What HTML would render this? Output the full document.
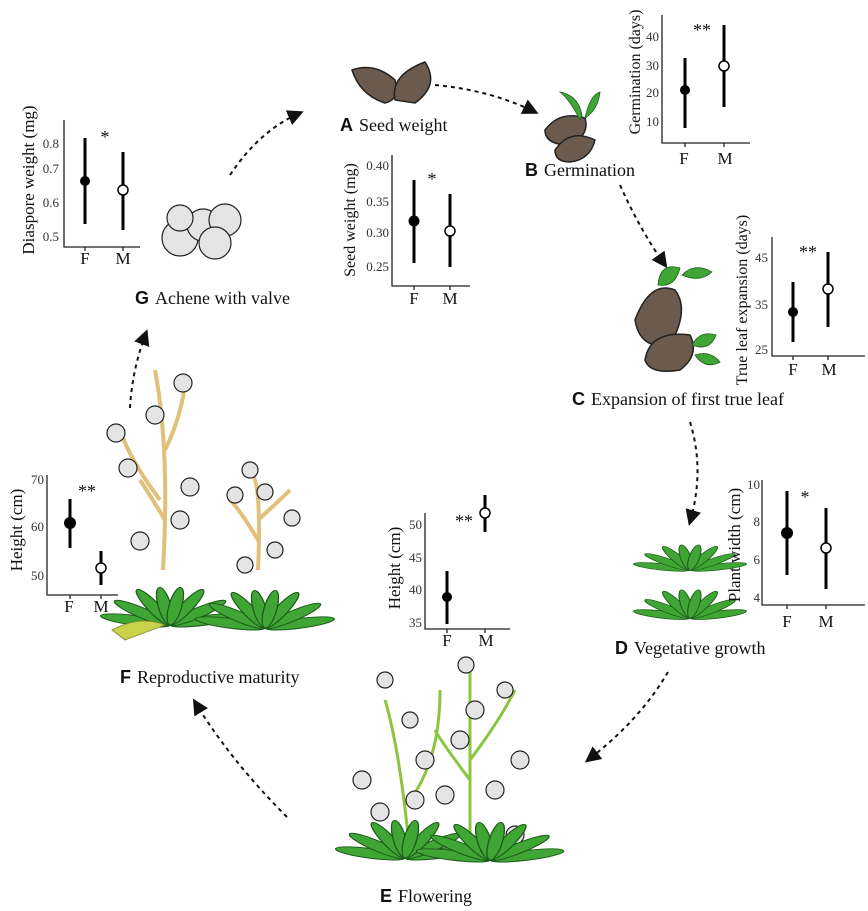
<!DOCTYPE html>
<html><head><meta charset="utf-8"><style>
html,body{margin:0;padding:0;background:#fff;}
svg{display:block;}
.t{font-family:"Liberation Serif",serif;fill:#111;}
.k{font-family:"Liberation Serif",serif;fill:#333;font-size:13px;text-anchor:end;}
.b{font-family:"Liberation Sans",sans-serif;font-weight:bold;fill:#111;}
.ax{stroke:#222;stroke-width:1.3;fill:none;}
.er{stroke:#000;stroke-width:3;}
.ar{stroke:#111;stroke-width:2;fill:none;stroke-dasharray:4 4;}
.lf{fill:#3fa535;stroke:#1d5b1a;stroke-width:0.8;}
.st{stroke:#8bc53f;stroke-width:3;fill:none;}
.sty{stroke:#e0c07a;stroke-width:4;fill:none;}
.fl{fill:#e4e4e4;stroke:#222;stroke-width:1.2;}
</style></head><body>
<svg width="868" height="911" viewBox="0 0 868 911" xmlns="http://www.w3.org/2000/svg">
<defs><marker id="m" markerWidth="10" markerHeight="10" refX="6" refY="5" orient="auto"><path d="M0,1 L8,5 L0,9 Z" fill="#111"/></marker>
<g id="ros">
<ellipse cx="0" cy="-22" rx="4" ry="22" class="lf" transform="rotate(-80)"/>
<ellipse cx="0" cy="-22" rx="4" ry="22" class="lf" transform="rotate(80)"/>
<ellipse cx="0" cy="-20" rx="4" ry="20" class="lf" transform="rotate(-60)"/>
<ellipse cx="0" cy="-20" rx="4" ry="20" class="lf" transform="rotate(60)"/>
<ellipse cx="0" cy="-18" rx="4" ry="18" class="lf" transform="rotate(-35)"/>
<ellipse cx="0" cy="-18" rx="4" ry="18" class="lf" transform="rotate(35)"/>
<ellipse cx="0" cy="-16" rx="4" ry="16" class="lf" transform="rotate(-12)"/>
<ellipse cx="0" cy="-16" rx="4" ry="16" class="lf" transform="rotate(12)"/>
</g></defs>

<!-- arrows -->
<path class="ar" d="M230,175 Q260,130 300,113" marker-end="url(#m)"/>
<path class="ar" d="M435,85 Q490,90 535,112" marker-end="url(#m)"/>
<path class="ar" d="M620,185 Q640,230 665,265" marker-end="url(#m)"/>
<path class="ar" d="M690,422 Q705,470 690,522" marker-end="url(#m)"/>
<path class="ar" d="M668,672 Q640,720 588,760" marker-end="url(#m)"/>
<path class="ar" d="M287,817 Q230,760 195,702" marker-end="url(#m)"/>
<path class="ar" d="M130,408 Q132,370 146,333" marker-end="url(#m)"/>

<!-- seeds A -->
<path d="M352,70 Q375,62 395,80 Q400,100 385,103 Q360,95 352,70Z" fill="#6b5b4f" stroke="#222" stroke-width="1.5"/>
<path d="M395,100 Q390,75 425,62 Q440,85 415,103 Z" fill="#6b5b4f" stroke="#222" stroke-width="1.5"/>
<!-- B -->
<path d="M545,130 Q560,110 585,118 Q590,135 570,145 Q545,145 545,130Z" fill="#6b5b4f" stroke="#222" stroke-width="1.5"/>
<path d="M555,150 Q570,128 595,140 Q590,160 570,162 Q555,162 555,150Z" fill="#6b5b4f" stroke="#222" stroke-width="1.5"/>
<path d="M580,120 Q570,100 560,92 Q578,95 582,115Z" class="lf" fill="#7cc242"/>
<path d="M585,118 Q590,95 600,92 Q598,110 585,118Z" class="lf"/>
<!-- C -->
<path d="M635,320 Q650,280 675,290 Q690,310 670,345 Q640,350 635,320Z" fill="#6b5b4f" stroke="#222" stroke-width="1.5"/>
<path d="M645,360 Q650,330 690,335 Q700,355 680,370 Q650,375 645,360Z" fill="#6b5b4f" stroke="#222" stroke-width="1.5"/>
<path d="M658,285 Q660,262 680,268 Q675,288 658,285Z" class="lf" fill="#7cc242"/>
<path d="M682,275 Q695,262 712,272 Q700,283 682,275Z" class="lf" fill="#7cc242"/>
<path d="M692,345 Q700,330 716,335 Q710,352 692,345Z" class="lf" fill="#7cc242"/>
<path d="M695,355 Q710,350 720,362 Q705,370 695,355Z" class="lf" fill="#7cc242"/>
<!-- G achenes -->
<g class="fl"><circle cx="180" cy="238" r="18"/><circle cx="203" cy="225" r="16"/><circle cx="225" cy="220" r="16"/><circle cx="215" cy="243" r="16"/><circle cx="180" cy="218" r="13"/></g>
<!-- D plants -->
<use href="#ros" transform="translate(690,570) scale(1.3,0.8)"/>
<use href="#ros" transform="translate(690,618) scale(1.3,0.9)"/>
<!-- F plants -->
<path class="sty" d="M163,570 Q170,450 155,370 M160,500 Q130,460 120,430 M165,450 Q180,420 185,385 M165,520 Q150,495 140,480"/>
<path class="sty" d="M258,570 Q262,480 250,470 M258,540 Q240,510 230,500 M258,520 Q280,500 290,490"/>
<g class="fl">
<circle cx="155" cy="415" r="9"/><circle cx="183" cy="383" r="9"/><circle cx="116" cy="433" r="9"/><circle cx="190" cy="487" r="9"/><circle cx="128" cy="468" r="9"/><circle cx="140" cy="541" r="9"/><circle cx="180" cy="520" r="9"/>
<circle cx="250" cy="470" r="8"/><circle cx="235" cy="495" r="8"/><circle cx="292" cy="518" r="8"/><circle cx="275" cy="550" r="8"/><circle cx="245" cy="565" r="8"/><circle cx="265" cy="492" r="8"/>
</g>
<use href="#ros" transform="translate(170,625) scale(1.6,1.2)"/>
<use href="#ros" transform="translate(265,628) scale(1.6,1.2)"/>
<path d="M112,630 Q140,615 165,625 L125,640Z" fill="#c9d24a" stroke="#7a8a20" stroke-width="0.8"/>
<!-- E plants -->
<path class="st" d="M410,855 Q400,750 385,700 M410,800 Q440,760 440,690 M470,855 Q470,750 470,665 M470,760 Q500,720 515,690 M470,780 Q440,740 435,730"/>
<g class="fl">
<circle cx="362" cy="780" r="9"/><circle cx="380" cy="812" r="9"/><circle cx="385" cy="680" r="8"/><circle cx="410" cy="720" r="8"/><circle cx="425" cy="760" r="9"/><circle cx="415" cy="800" r="9"/>
<circle cx="466" cy="665" r="8"/><circle cx="475" cy="710" r="9"/><circle cx="505" cy="690" r="8"/><circle cx="460" cy="740" r="9"/><circle cx="520" cy="760" r="9"/><circle cx="495" cy="790" r="9"/><circle cx="515" cy="835" r="9"/><circle cx="445" cy="795" r="9"/>
</g>
<use href="#ros" transform="translate(405,858) scale(1.6,1.2)"/>
<use href="#ros" transform="translate(490,860) scale(1.7,1.2)"/>

<!-- Plot G -->
<path class="ax" d="M64,120 V247 H140 M85,247 v4 M123,247 v4"/>
<text class="k" x="59" y="148">0.8</text><text class="k" x="59" y="173">0.7</text><text class="k" x="59" y="207">0.6</text><text class="k" x="59" y="241">0.5</text>
<line class="er" x1="85" y1="138" x2="85" y2="224"/><circle cx="85" cy="181" r="5"/>
<line class="er" x1="123" y1="152" x2="123" y2="230"/><circle cx="123" cy="190" r="5" fill="#fff" stroke="#000" stroke-width="1.5"/>
<text class="t" x="105" y="143" font-size="18" text-anchor="middle">*</text>
<text class="t" x="85" y="264" font-size="17" text-anchor="middle">F</text><text class="t" x="123" y="264" font-size="17" text-anchor="middle">M</text>
<text class="t" font-size="17" transform="translate(34,180) rotate(-90)" text-anchor="middle">Diaspore weight (mg)</text>

<!-- Plot A -->
<path class="ax" d="M392,155 V286 H470 M414,286 v4 M450,286 v4"/>
<text class="k" x="389" y="170">0.40</text><text class="k" x="389" y="206">0.35</text><text class="k" x="389" y="237">0.30</text><text class="k" x="389" y="271">0.25</text>
<line class="er" x1="414" y1="180" x2="414" y2="263"/><circle cx="414" cy="221" r="5.5"/>
<line class="er" x1="450" y1="194" x2="450" y2="267"/><circle cx="450" cy="231" r="5" fill="#fff" stroke="#000" stroke-width="1.5"/>
<text class="t" x="432" y="185" font-size="18" text-anchor="middle">*</text>
<text class="t" x="414" y="304" font-size="17" text-anchor="middle">F</text><text class="t" x="450" y="304" font-size="17" text-anchor="middle">M</text>
<text class="t" font-size="16" transform="translate(355,220) rotate(-90)" text-anchor="middle">Seed weight (mg)</text>

<!-- Plot B -->
<path class="ax" d="M662,15 V143 H750 M685,143 v4 M724,143 v4"/>
<text class="k" x="659" y="41">40</text><text class="k" x="659" y="70">30</text><text class="k" x="659" y="97">20</text><text class="k" x="659" y="126">10</text>
<line class="er" x1="685" y1="58" x2="685" y2="128"/><circle cx="685" cy="90" r="5"/>
<line class="er" x1="724" y1="25" x2="724" y2="107"/><circle cx="724" cy="66" r="5" fill="#fff" stroke="#000" stroke-width="1.5"/>
<text class="t" x="702" y="36" font-size="18" text-anchor="middle">**</text>
<text class="t" x="684" y="164" font-size="17" text-anchor="middle">F</text><text class="t" x="725" y="164" font-size="17" text-anchor="middle">M</text>
<text class="t" font-size="16" transform="translate(640,72) rotate(-90)" text-anchor="middle">Germination (days)</text>

<!-- Plot C -->
<path class="ax" d="M772,237 V356 H865 M793,356 v4 M828,356 v4"/>
<text class="k" x="768" y="262">45</text><text class="k" x="768" y="309">35</text><text class="k" x="768" y="354">25</text>
<line class="er" x1="793" y1="282" x2="793" y2="342"/><circle cx="793" cy="312" r="5"/>
<line class="er" x1="828" y1="252" x2="828" y2="327"/><circle cx="828" cy="289" r="5" fill="#fff" stroke="#000" stroke-width="1.5"/>
<text class="t" x="808" y="258" font-size="18" text-anchor="middle">**</text>
<text class="t" x="793" y="375" font-size="17" text-anchor="middle">F</text><text class="t" x="829" y="375" font-size="17" text-anchor="middle">M</text>
<text class="t" font-size="16" transform="translate(747,300) rotate(-90)" text-anchor="middle">True leaf expansion (days)</text>

<!-- Plot D -->
<path class="ax" d="M762,480 V605 H865 M787,605 v4 M826,605 v4"/>
<text class="k" x="760" y="489">10</text><text class="k" x="760" y="526">8</text><text class="k" x="760" y="564">6</text><text class="k" x="760" y="602">4</text>
<line class="er" x1="787" y1="491" x2="787" y2="575"/><circle cx="787" cy="533" r="6"/>
<line class="er" x1="826" y1="508" x2="826" y2="589"/><circle cx="826" cy="548" r="5" fill="#fff" stroke="#000" stroke-width="1.5"/>
<text class="t" x="805" y="503" font-size="18" text-anchor="middle">*</text>
<text class="t" x="787" y="627" font-size="17" text-anchor="middle">F</text><text class="t" x="826" y="627" font-size="17" text-anchor="middle">M</text>
<text class="t" font-size="17" transform="translate(740,545) rotate(-90)" text-anchor="middle">Plant width (cm)</text>

<!-- Plot E -->
<path class="ax" d="M425,513 V629 H510 M447,629 v4 M485,629 v4"/>
<text class="k" x="422" y="529">50</text><text class="k" x="422" y="562">45</text><text class="k" x="422" y="594">40</text><text class="k" x="422" y="627">35</text>
<line class="er" x1="447" y1="571" x2="447" y2="624"/><circle cx="447" cy="597" r="5"/>
<line class="er" x1="485" y1="495" x2="485" y2="532"/><circle cx="485" cy="513" r="5" fill="#fff" stroke="#000" stroke-width="1.5"/>
<text class="t" x="464" y="527" font-size="18" text-anchor="middle">**</text>
<text class="t" x="447" y="646" font-size="17" text-anchor="middle">F</text><text class="t" x="486" y="646" font-size="17" text-anchor="middle">M</text>
<text class="t" font-size="17" transform="translate(400,568) rotate(-90)" text-anchor="middle">Height (cm)</text>

<!-- Plot F -->
<path class="ax" d="M47,475 V595 H118 M70,595 v4 M101,595 v4"/>
<text class="k" x="44" y="484">70</text><text class="k" x="44" y="531">60</text><text class="k" x="44" y="580">50</text>
<line class="er" x1="70" y1="499" x2="70" y2="548"/><circle cx="70" cy="523" r="6"/>
<line class="er" x1="101" y1="551" x2="101" y2="585"/><circle cx="101" cy="568" r="5" fill="#fff" stroke="#000" stroke-width="1.5"/>
<text class="t" x="87" y="497" font-size="18" text-anchor="middle">**</text>
<text class="t" x="69" y="612" font-size="17" text-anchor="middle">F</text><text class="t" x="101" y="612" font-size="17" text-anchor="middle">M</text>
<text class="t" font-size="17" transform="translate(22,530) rotate(-90)" text-anchor="middle">Height (cm)</text>

<!-- captions -->
<text x="340" y="131" font-size="18"><tspan class="b">A</tspan><tspan class="t" dx="6">Seed weight</tspan></text>
<text x="525" y="176" font-size="18"><tspan class="b">B</tspan><tspan class="t" dx="6">Germination</tspan></text>
<text x="572" y="405" font-size="18"><tspan class="b">C</tspan><tspan class="t" dx="6">Expansion of first true leaf</tspan></text>
<text x="615" y="654" font-size="18"><tspan class="b">D</tspan><tspan class="t" dx="6">Vegetative growth</tspan></text>
<text x="380" y="902" font-size="18"><tspan class="b">E</tspan><tspan class="t" dx="6">Flowering</tspan></text>
<text x="120" y="683" font-size="18"><tspan class="b">F</tspan><tspan class="t" dx="6">Reproductive maturity</tspan></text>
<text x="135" y="304" font-size="18"><tspan class="b">G</tspan><tspan class="t" dx="6">Achene with valve</tspan></text>
</svg>
</body></html>
